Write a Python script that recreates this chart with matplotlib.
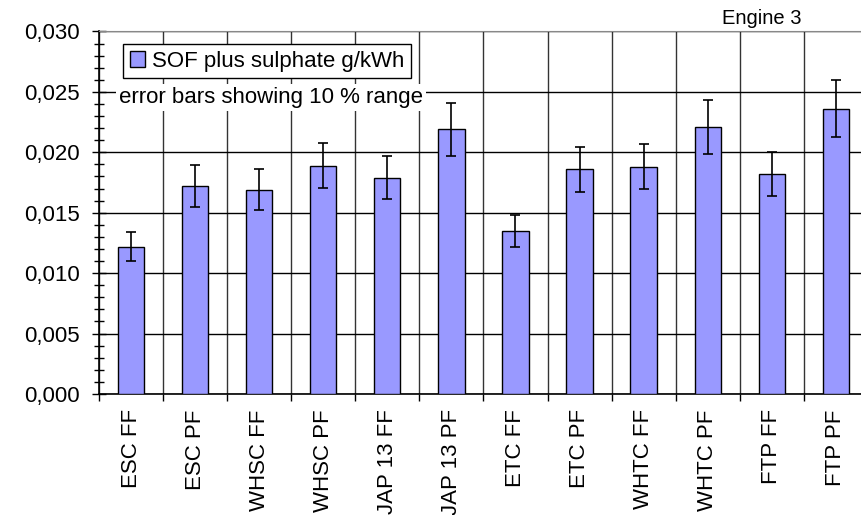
import numpy as np
import matplotlib
matplotlib.use("Agg")
import matplotlib.pyplot as plt
from matplotlib.ticker import MultipleLocator, FixedLocator, FuncFormatter

plt.rcParams['font.family'] = ['Liberation Sans', 'DejaVu Sans']

cycles = ["ESC FF", "ESC PF", "WHSC FF", "WHSC PF", "JAP 13 FF", "JAP 13 PF",
          "ETC FF", "ETC PF", "WHTC FF", "WHTC PF", "FTP FF", "FTP PF"]
sof_sulphate = [0.0122, 0.0172, 0.0169, 0.0189, 0.0179, 0.0219,
                0.0135, 0.0186, 0.0188, 0.0221, 0.0182, 0.0236]
err_frac = 0.10  # error bars showing 10 % range

fig = plt.figure(figsize=(8.61, 5.15), dpi=100)
ax = fig.add_axes([0.115, 0.235, 0.893, 0.704])

x = np.arange(len(cycles))
vals = np.array(sof_sulphate)
ax.bar(x, vals, width=0.41, color="#9999FF", edgecolor="black", linewidth=1.0,
       zorder=3, label="SOF plus sulphate g/kWh")
ax.errorbar(x, vals, yerr=vals * err_frac, fmt="none", ecolor="black",
            elinewidth=1.2, capsize=3.7, capthick=1.2, zorder=4)

ax.set_xlim(-0.5, len(cycles) - 0.5)
ax.set_ylim(0, 0.030)

# y axis: major every 0.005, minor every 0.001
ax.yaxis.set_major_locator(MultipleLocator(0.005))
ax.yaxis.set_minor_locator(MultipleLocator(0.001))
ax.yaxis.set_major_formatter(FuncFormatter(lambda v, p: f"{v:.3f}".replace(".", ",")))
ax.tick_params(axis="y", which="major", direction="inout", length=10, width=1,
               labelsize=16, pad=9)
ax.tick_params(axis="y", which="minor", direction="inout", length=7, width=1)

# x axis: labels at bar centres, tick marks at category boundaries
ax.set_xticks(x)
ax.set_xticklabels(cycles, rotation=90, fontsize=16)
ax.xaxis.set_minor_locator(FixedLocator(np.arange(-0.5, len(cycles), 1.0)))
ax.tick_params(axis="x", which="major", length=0, pad=11)
ax.tick_params(axis="x", which="minor", direction="out", length=5, width=1)

ax.grid(axis="y", which="major", color="black", linewidth=1.0, zorder=0)
ax.grid(axis="x", which="minor", color="#333333", linewidth=1.0, zorder=0)
ax.set_axisbelow(True)

for s in ["left", "bottom"]:
    ax.spines[s].set_color("black")
    ax.spines[s].set_linewidth(1.2)
ax.spines["top"].set_color("#888888")
ax.spines["right"].set_visible(False)

leg = ax.legend(loc="upper left", bbox_to_anchor=(0.031, 0.965), fontsize=16,
                frameon=True, fancybox=False, framealpha=1, edgecolor="black",
                borderpad=0.3, handlelength=0.7, handleheight=0.7,
                handletextpad=0.3, borderaxespad=0)
leg.get_frame().set_linewidth(1.0)

ax.text(0.026, 0.818, "error bars showing 10 % range", transform=ax.transAxes,
        fontsize=16, ha="left", va="center", zorder=5,
        bbox=dict(facecolor="white", edgecolor="none", pad=2))

fig.text(0.885, 0.965, "Engine 3", fontsize=14.5, ha="center", va="center")

fig.savefig("out.png", dpi=100)
